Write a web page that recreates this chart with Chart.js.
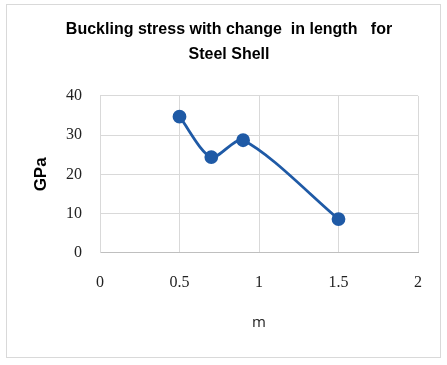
<!DOCTYPE html>
<html><head><meta charset="utf-8">
<script src="https://cdn.jsdelivr.net/npm/chart.js@4/dist/chart.umd.min.js"></script>
<style>
html,body{margin:0;padding:0;background:#fff;}
#wrap{position:absolute;left:0;top:0;width:447px;height:365px;}
#frame{position:absolute;left:6px;top:4px;width:435px;height:354px;border:1px solid #d9d9d9;box-sizing:border-box;pointer-events:none;}
</style></head>
<body>
<div id="wrap"><canvas id="c" width="447" height="365"></canvas><div id="frame"></div></div>
<script>
const lengths = [0.5, 0.7, 0.9, 1.5];
const stressGPa = [34.7, 24.4, 28.7, 8.6];
const xTicks = [0, 0.5, 1, 1.5, 2];
const yTicks = [0, 10, 20, 30, 40];
const titleLines = ['Buckling stress with change  in length   for', 'Steel Shell'];

const pts = lengths.map((x, i) => ({x: x, y: stressGPa[i]}));
const tickFont = {family: "'Liberation Serif', serif", size: 16};

new Chart(document.getElementById('c'), {
  type: 'scatter',
  data: {datasets: [{
    data: pts, showLine: true, tension: 0.28,
    borderColor: '#1f5aa6', backgroundColor: '#1f5aa6',
    borderWidth: 2.8, pointRadius: 5.5, pointHoverRadius: 5.5
  }]},
  options: {
    responsive: false, animation: false,
    layout: {padding: {left: 27, right: 16, top: 4, bottom: 29}},
    plugins: {
      legend: {display: false}, tooltip: {enabled: false},
      title: {display: true, text: titleLines, color: '#000',
        font: {family: "'Liberation Sans', sans-serif", size: 16, weight: 'bold', lineHeight: 1.56},
        padding: {top: 13, bottom: 29}}
    },
    scales: {
      x: {type: 'linear', min: 0, max: 2,
        afterBuildTicks: s => { s.ticks = xTicks.map(v => ({value: v})); },
        ticks: {color: '#222', font: tickFont, padding: 20, maxRotation: 0, callback: v => String(v)},
        grid: {color: '#d9d9d9', lineWidth: 1, drawTicks: false},
        border: {color: '#bfbfbf', width: 1},
        title: {display: true, text: 'm', color: '#222', font: {family: "'Open Sans', sans-serif", size: 15}, padding: {top: 2}}
      },
      y: {type: 'linear', min: 0, max: 40,
        afterBuildTicks: s => { s.ticks = yTicks.map(v => ({value: v})); },
        afterFit: s => { s.width = 73; },
        ticks: {color: '#222', font: tickFont, padding: 18},
        grid: {color: '#d9d9d9', lineWidth: 1, drawTicks: false},
        border: {color: '#d9d9d9', width: 1},
        title: {display: true, text: 'GPa', color: '#000', font: {family: "'Liberation Sans', sans-serif", size: 17, weight: 'bold'}, padding: {bottom: 4}}
      },
      yr: {type: 'linear', position: 'right', min: 0, max: 40,
        ticks: {display: false}, grid: {display: false}, border: {display: false},
        afterFit: s => { s.width = 13; }
      }
    }
  }
});
</script>
</body></html>
